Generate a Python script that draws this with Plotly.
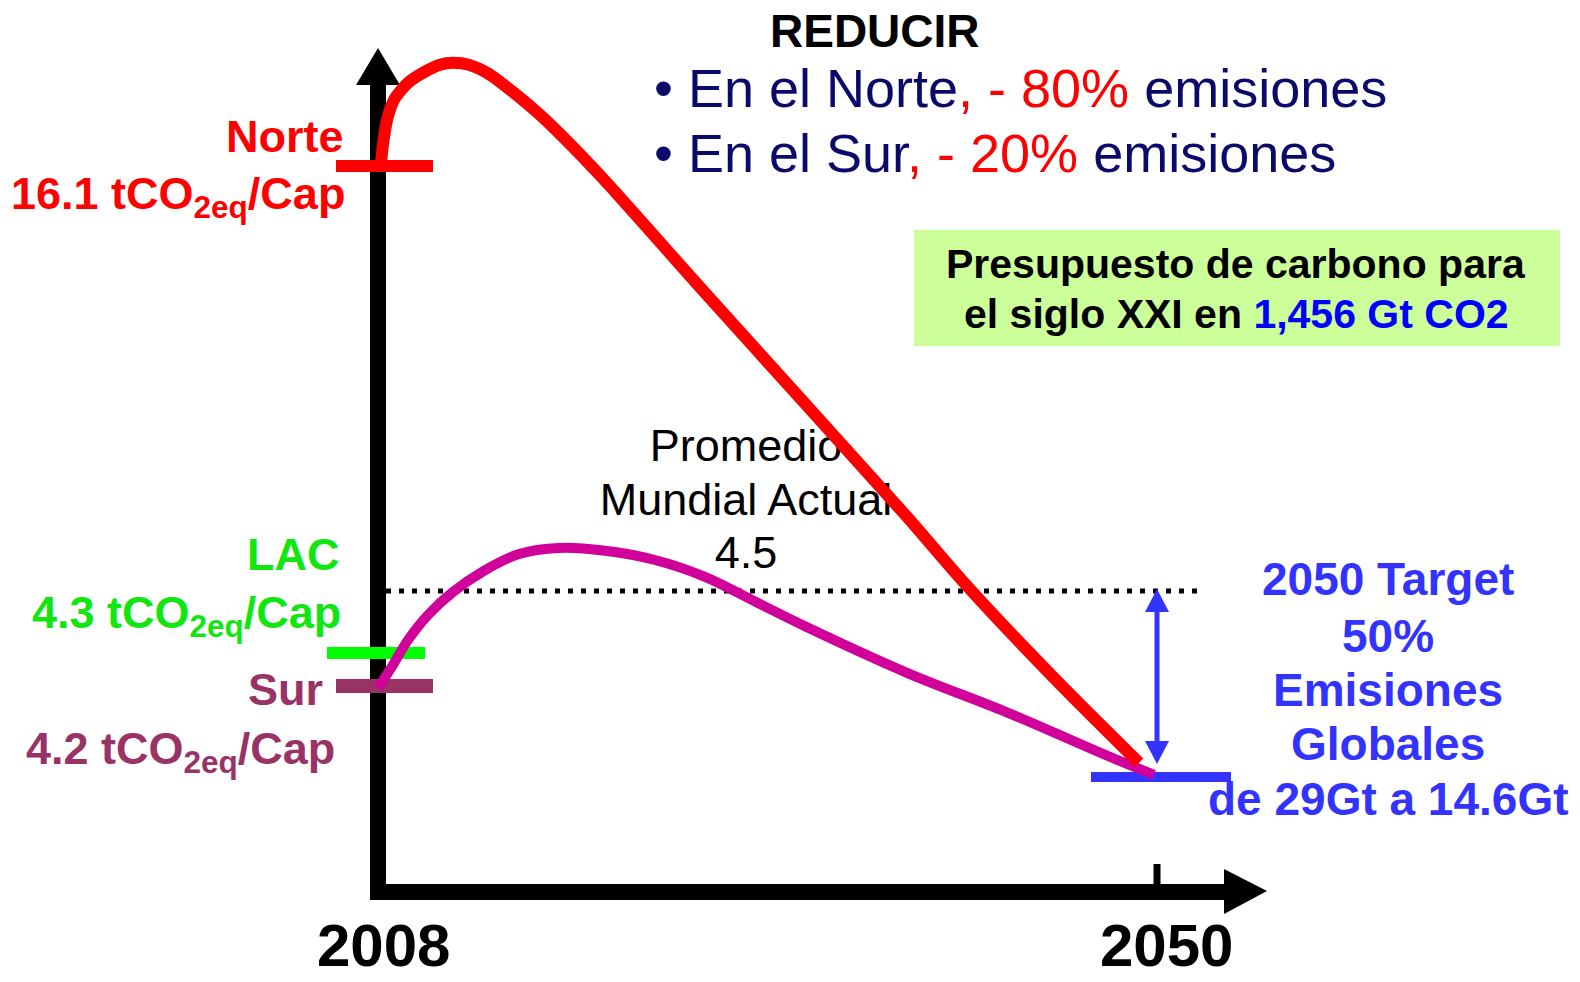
import plotly.graph_objects as go

# ---------------- data (schematic per-capita level) -------------
years_norte = [2008.15, 2008.3, 2008.54, 2008.92, 2009.62, 2010.43, 2011.34, 2012.04, 2012.9,
               2013.98, 2015.33, 2016.73, 2018.35, 2020.24, 2025.63, 2031.08, 2036.52,
               2039.76, 2044.66, 2049.03]
level_norte = [18.15, 18.8, 19.4, 19.85, 20.23, 20.48, 20.68, 20.73, 20.68,
               20.45, 19.98, 19.43, 18.7, 17.78, 14.98, 12.18, 9.38,
               7.65, 5.25, 3.23]

years_sur = [2008.0, 2008.81, 2009.62, 2010.7, 2012.04, 2013.71, 2015.6, 2017.76, 2020.24,
             2022.93, 2025.63, 2028.38, 2031.08, 2036.52, 2041.97, 2047.36, 2049.84]
level_sur = [5.1, 5.68, 6.3, 6.93, 7.5, 8.03, 8.45, 8.6, 8.53,
             8.3, 7.88, 7.25, 6.63, 5.48, 4.48, 3.4, 2.93]

start_year = 2008
target_year = 2050
year_labels = ["2008", "2050"]

norte_level = 18.15      # Norte 16.1 tCO2eq/Cap marker
lac_level = 5.975        # LAC 4.3 tCO2eq/Cap marker
sur_level = 5.15         # Sur 4.2 tCO2eq/Cap marker
world_avg_level = 7.525  # Promedio Mundial Actual 4.5
target_level = 2.875     # 2050 target

promedio_lines = ["Promedio", "Mundial Actual", "4.5"]
target_lines = ["2050 Target", "50%", "Emisiones", "Globales", "de 29Gt a 14.6Gt"]

# ---------------- layout geometry ----------------
W, H = 1580, 982
PX0 = 378.0            # pixel of 2008
PPY = (1157.0 - 378.0) / 42.0   # pixels per year
PY0 = 892.0            # pixel of level 0
PPL = 40.0             # pixels per level unit


def X(px):
    return start_year + (px - PX0) / PPY


def Y(py):
    return (PY0 - py) / PPL


FONT = "Liberation Sans, Arial, Helvetica, sans-serif"
RED = "#ff0000"
MAG = "#d1009b"
GREEN = "#00ff00"
GREEN_TXT = "#11e611"
PLUM = "#993366"
BLUE = "#3333ff"
NAVY = "#0a0a6b"

fig = go.Figure()

# Promedio text (drawn under the curves)
fig.add_trace(go.Scatter(
    x=[X(746)] * 3, y=[Y(450), Y(504), Y(557)], mode="text",
    text=promedio_lines,
    textfont=dict(family=FONT, size=45, color="black"),
    textposition="middle center", hoverinfo="skip", showlegend=False))

# dotted world average line
fig.add_trace(go.Scatter(
    x=[X(386), X(1204)], y=[world_avg_level, world_avg_level], mode="lines",
    line=dict(color="black", width=5, dash="5px,8px"), hoverinfo="skip", showlegend=False))

# reference bars
fig.add_trace(go.Scatter(x=[X(336), X(433)], y=[norte_level, norte_level], mode="lines",
                         line=dict(color=RED, width=12), showlegend=False, hoverinfo="skip"))
fig.add_trace(go.Scatter(x=[X(327), X(425)], y=[lac_level, lac_level], mode="lines",
                         line=dict(color=GREEN, width=12), showlegend=False, hoverinfo="skip"))
fig.add_trace(go.Scatter(x=[X(336), X(433)], y=[sur_level, sur_level], mode="lines",
                         line=dict(color=PLUM, width=14), showlegend=False, hoverinfo="skip"))
fig.add_trace(go.Scatter(x=[X(1091), X(1231)], y=[target_level, target_level], mode="lines",
                         line=dict(color=BLUE, width=10), showlegend=False, hoverinfo="skip"))

# curves
fig.add_trace(go.Scatter(x=years_sur, y=level_sur, mode="lines",
                         line=dict(color=MAG, width=10, shape="spline", smoothing=1.0),
                         showlegend=False, hoverinfo="skip"))
fig.add_trace(go.Scatter(x=years_norte, y=level_norte, mode="lines",
                         line=dict(color=RED, width=12, shape="spline", smoothing=0.7),
                         showlegend=False, hoverinfo="skip"))

shapes = []
# y axis
shapes.append(dict(type="line", x0=start_year, x1=start_year, y0=Y(900), y1=Y(84),
                   line=dict(color="black", width=16), layer="below"))
shapes.append(dict(type="path",
                   path=f"M {X(356)},{Y(85)} L {X(400)},{Y(85)} L {X(378)},{Y(48)} Z",
                   fillcolor="black", line=dict(width=0), layer="below"))
# x axis
shapes.append(dict(type="line", x0=X(370), x1=X(1226), y0=Y(892), y1=Y(892),
                   line=dict(color="black", width=16), layer="below"))
shapes.append(dict(type="path",
                   path=f"M {X(1224)},{Y(869)} L {X(1224)},{Y(914)} L {X(1267)},{Y(891)} Z",
                   fillcolor="black", line=dict(width=0), layer="below"))
# 2050 tick
shapes.append(dict(type="line", x0=target_year, x1=target_year, y0=Y(886), y1=Y(864),
                   line=dict(color="black", width=7), layer="below"))
# green box
shapes.append(dict(type="rect", x0=X(914), x1=X(1560), y0=Y(346), y1=Y(230),
                   fillcolor="#ccff99", line=dict(width=0), layer="below"))
# blue double arrow
shapes.append(dict(type="line", x0=target_year, x1=target_year, y0=Y(606), y1=Y(748),
                   line=dict(color=BLUE, width=5)))
shapes.append(dict(type="path",
                   path=f"M {X(1145)},{Y(612)} L {X(1169)},{Y(612)} L {X(1157)},{Y(589)} Z",
                   fillcolor=BLUE, line=dict(width=0)))
shapes.append(dict(type="path",
                   path=f"M {X(1145)},{Y(741)} L {X(1169)},{Y(741)} L {X(1157)},{Y(764)} Z",
                   fillcolor=BLUE, line=dict(width=0)))

ann = []


def text(x, y, s, size, color, anchor="center", bold=False):
    ann.append(dict(x=x, y=y, text=f"<b>{s}</b>" if bold else s, showarrow=False,
                    xanchor=anchor, yanchor="middle",
                    font=dict(family=FONT, size=size, color=color)))


text(X(875), Y(31), "REDUCIR", 46, "black", bold=True)
text(X(652), Y(88), f"• En el Norte<span style='color:{RED}'>, - 80%</span> emisiones", 54, NAVY, "left")
text(X(652), Y(153), f"• En el Sur<span style='color:{RED}'>, - 20%</span> emisiones", 54, NAVY, "left")

text(X(346), Y(136), "Norte", 45, RED, "right", True)
text(X(347), Y(196), "16.1 tCO<sub>2eq</sub>/Cap", 45, RED, "right", True)
text(X(341), Y(554), "LAC", 45, GREEN_TXT, "right", True)
text(X(343), Y(615), "4.3 tCO<sub>2eq</sub>/Cap", 45, GREEN_TXT, "right", True)
text(X(325), Y(689), "Sur", 45, PLUM, "right", True)
text(X(337), Y(751), "4.2 tCO<sub>2eq</sub>/Cap", 45, PLUM, "right", True)

text(X(1236), Y(264), "Presupuesto de carbono para", 41, "black", bold=True)
text(X(1236), Y(314), "el siglo XXI en <span style='color:#0000ff'>1,456 Gt CO2</span>", 41, "black", bold=True)

for line, py in zip(target_lines, [579, 636, 690, 744, 799]):
    text(X(1388), Y(py), line, 46, BLUE, bold=True)

for lab, yr, dx in zip(year_labels, [start_year, target_year], [5, 9]):
    ann.append(dict(x=yr, y=Y(945), text=f"<b>{lab}</b>", showarrow=False, xshift=dx,
                    xanchor="center", yanchor="middle",
                    font=dict(family=FONT, size=60, color="black")))

fig.update_layout(
    width=W, height=H, margin=dict(l=0, r=0, t=0, b=0),
    paper_bgcolor="white", plot_bgcolor="white",
    xaxis=dict(range=[X(0), X(W)], visible=False, fixedrange=True),
    yaxis=dict(range=[Y(H), Y(0)], visible=False, fixedrange=True),
    shapes=shapes, annotations=ann, showlegend=False,
)

fig.write_html("out.html", config={"displayModeBar": False},
               post_script="document.body.style.margin='0';document.body.style.overflow='hidden';")
